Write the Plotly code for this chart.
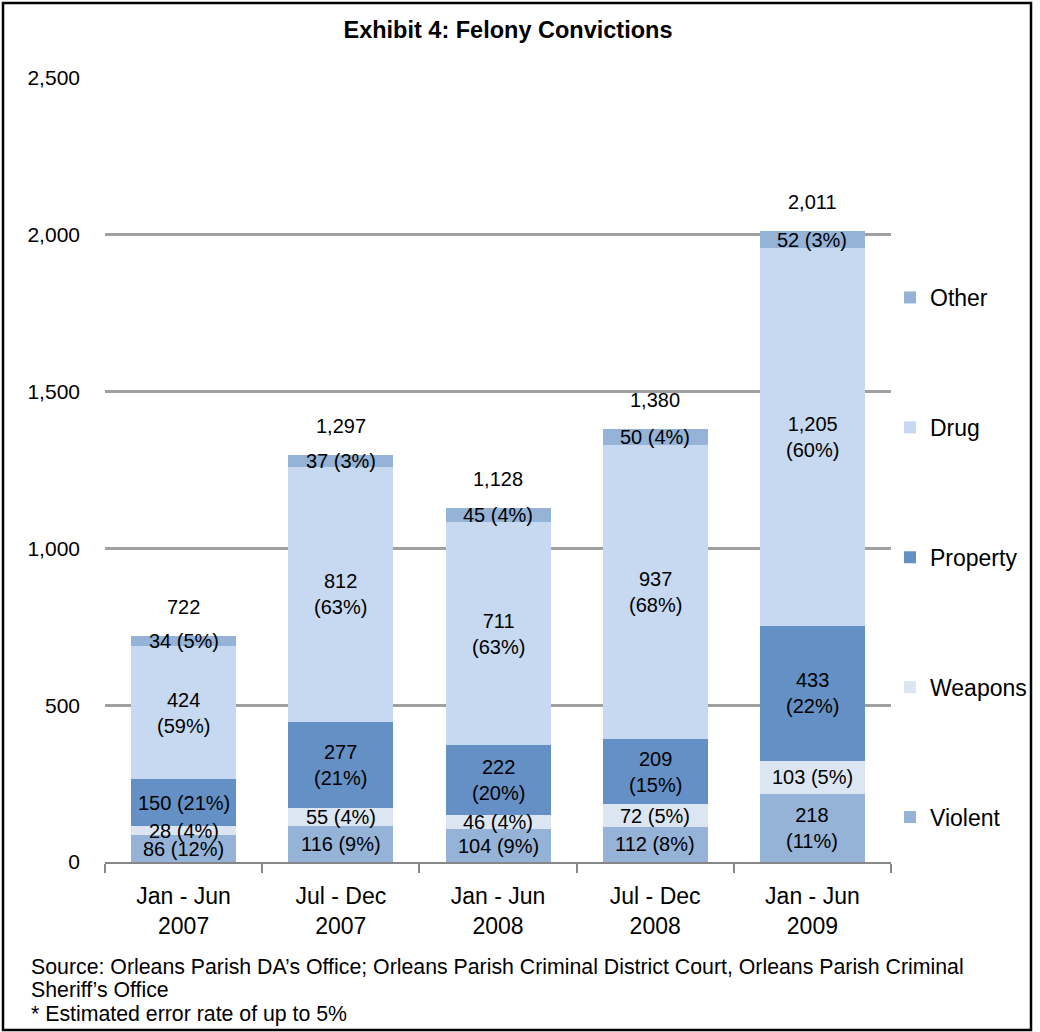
import plotly.graph_objects as go

categories = ["Jan - Jun<br>2007", "Jul - Dec<br>2007", "Jan - Jun<br>2008", "Jul - Dec<br>2008", "Jan - Jun<br>2009"]
violent = [86, 116, 104, 112, 218]
weapons = [28, 55, 46, 72, 103]
property_ = [150, 277, 222, 209, 433]
drug = [424, 812, 711, 937, 1205]
other = [34, 37, 45, 50, 52]
totals = [722, 1297, 1128, 1380, 2011]

violent_pct = [12, 9, 9, 8, 11]
weapons_pct = [4, 4, 4, 5, 5]
property_pct = [21, 21, 20, 15, 22]
drug_pct = [59, 63, 63, 68, 60]
other_pct = [5, 3, 4, 4, 3]

y_ticks = [0, 500, 1000, 1500, 2000, 2500]

source_lines = [
    "Source: Orleans Parish DA’s Office; Orleans Parish Criminal District Court, Orleans Parish Criminal",
    "Sheriff’s Office",
    "* Estimated error rate of up to 5%",
]

series = [
    ("Violent", violent, violent_pct, "#95B3D7", [False, False, False, False, True]),
    ("Weapons", weapons, weapons_pct, "#DCE6F2", [False] * 5),
    ("Property", property_, property_pct, "#6490C5", [False, True, True, True, True]),
    ("Drug", drug, drug_pct, "#C6D9F1", [True] * 5),
    ("Other", other, other_pct, "#95B3D7", [False] * 5),
]

FONT = "Liberation Sans, Arial, sans-serif"

W, H = 1040, 1032
ml, mr, mt, mb = 105, W - 891, 78, H - 862
pw, ph = W - ml - mr, H - mt - mb

def px(x):
    return (x - ml) / pw

def py(y):
    return (H - mb - y) / ph

fig = go.Figure()
annotations = []
base = [0] * len(categories)
for k, (name, vals, pcts, color, wrap) in enumerate(series):
    fig.add_trace(go.Bar(
        x=categories, y=vals, name=name, marker=dict(color=color, line=dict(width=0)),
        width=0.668, legendgroup=name, legendrank=len(series) - k,
    ))
    for i, (v, p) in enumerate(zip(vals, pcts)):
        sep = "<br>" if wrap[i] else " "
        annotations.append(dict(
            x=categories[i], y=base[i] + v / 2, xref="x", yref="y",
            text=f"{v:,}{sep}({p}%)", showarrow=False,
            font=dict(family=FONT, size=20, color="#000000"),
        ))
        base[i] += v

for i, t in enumerate(totals):
    annotations.append(dict(
        x=categories[i], y=t, xref="x", yref="y", text=f"{t:,}", showarrow=False,
        yshift=29, font=dict(family=FONT, size=20, color="#000000"),
    ))

for k, (line, ycen) in enumerate(zip(source_lines, [967, 990, 1014])):
    annotations.append(dict(
        x=px(29), y=py(ycen), xref="paper", yref="paper", xanchor="left", yanchor="middle",
        align="left", showarrow=False, text=line,
        font=dict(family=FONT, size=21.3, color="#000000"),
    ))

fig.update_layout(
    width=W, height=H,
    margin=dict(l=ml, r=mr, t=mt, b=mb, autoexpand=False),
    barmode="stack",
    plot_bgcolor="white", paper_bgcolor="white",
    font=dict(family=FONT, size=20, color="#000000"),
    title=dict(text="<b>Exhibit 4: Felony Convictions</b>", xref="container", x=508 / W, xanchor="center",
               yref="container", y=1 - 30 / H, yanchor="middle",
               font=dict(family=FONT, size=23.5, color="#000000")),
    xaxis=dict(
        type="category", showline=True, linecolor="#878787", linewidth=2,
        ticks="outside", tickson="boundaries", ticklen=9, tickcolor="#878787", tickwidth=2,
        showgrid=False, tickfont=dict(family=FONT, size=23, color="#000000"),
        ticklabelstandoff=12,
        range=[-0.5, 4.5],
    ),
    yaxis=dict(
        range=[0, 2500], tickvals=y_ticks, tickformat=",", showgrid=True,
        gridcolor="#A0A0A0", gridwidth=2.5, zeroline=False, showline=False,
        ticks="", ticklabelstandoff=24, tickfont=dict(family=FONT, size=21, color="#000000"),
    ),
    legend=dict(
        x=px(890), y=py(276), xanchor="left", yanchor="top", traceorder="grouped",
        tracegroupgap=97, font=dict(family=FONT, size=23, color="#000000"),
        itemwidth=30, bgcolor="rgba(0,0,0,0)",
    ),
    annotations=annotations,
    shapes=[dict(type="rect", xref="paper", yref="paper",
                 x0=px(3), x1=px(1031), y0=py(1030), y1=py(3),
                 line=dict(color="#000000", width=2.5), fillcolor="rgba(0,0,0,0)")],
    showlegend=True,
)

fig.write_html("out.html")
